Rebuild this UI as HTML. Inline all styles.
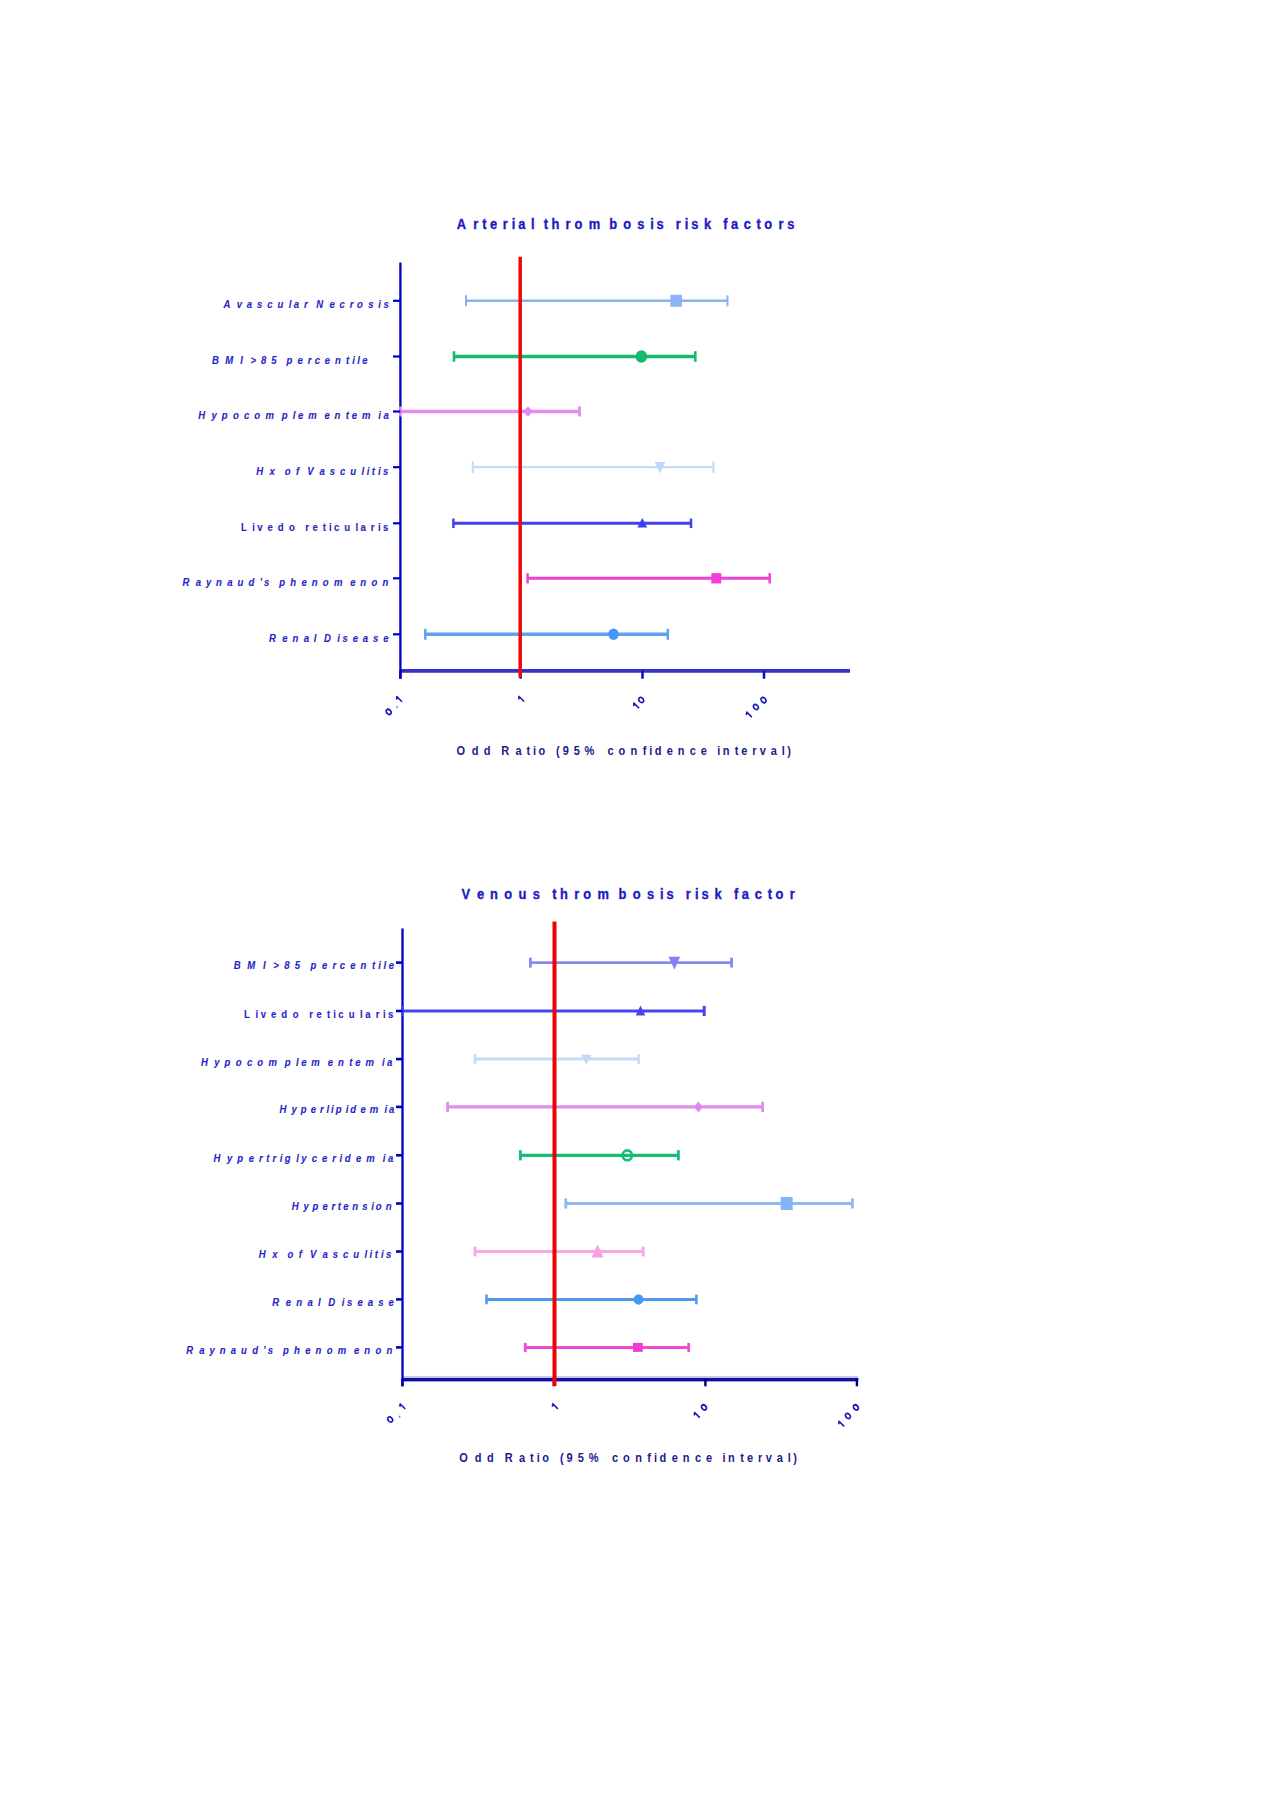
<!DOCTYPE html>
<html><head><meta charset="utf-8"><title>Thrombosis risk factors</title>
<style>
html,body{margin:0;padding:0;background:#fff;}
body{width:1280px;height:1813px;overflow:hidden;}
svg{display:block;font-family:"Liberation Sans", sans-serif;}
</style></head>
<body>
<svg width="1280" height="1813" viewBox="0 0 1280 1813">
<rect width="1280" height="1813" fill="#fff"/>
<text x="496.39 514.50 524.25 532.60 546.54 556.30 563.26 577.21 591.14 599.49 614.80 624.56 639.87 662.16 677.48 692.79 706.73 713.70 734.61 744.36 751.33 765.27 786.18 794.53 808.47 822.41 830.76 846.08 855.83" y="229.0" font-size="14" font-weight="bold" font-style="normal" fill="#1c1cc4" stroke="#1c1cc4" stroke-width="0.35" transform="scale(0.92 1)">Arterialthrombosisriskfactors</text>
<line x1="400.00" y1="670.80" x2="850.00" y2="670.80" stroke="#3a2ec8" stroke-width="3.7" stroke-linecap="butt"/>
<line x1="400.40" y1="670.80" x2="400.40" y2="678.70" stroke="#0808c8" stroke-width="2.5" stroke-linecap="butt"/>
<line x1="520.60" y1="670.80" x2="520.60" y2="678.70" stroke="#0808c8" stroke-width="2.5" stroke-linecap="butt"/>
<line x1="642.50" y1="670.80" x2="642.50" y2="678.70" stroke="#0808c8" stroke-width="2.5" stroke-linecap="butt"/>
<line x1="764.00" y1="670.80" x2="764.00" y2="678.70" stroke="#0808c8" stroke-width="2.5" stroke-linecap="butt"/>
<line x1="400.40" y1="262.40" x2="400.40" y2="678.70" stroke="#0000c4" stroke-width="2.3" stroke-linecap="butt"/>
<line x1="466.00" y1="300.80" x2="727.50" y2="300.80" stroke="#88b2f0" stroke-width="2.4" stroke-linecap="butt"/>
<line x1="466.00" y1="295.30" x2="466.00" y2="306.30" stroke="#88b2f0" stroke-width="2" stroke-linecap="butt"/>
<line x1="727.50" y1="295.30" x2="727.50" y2="306.30" stroke="#88b2f0" stroke-width="2" stroke-linecap="butt"/>
<line x1="454.00" y1="356.50" x2="695.30" y2="356.50" stroke="#12bb6e" stroke-width="3.4" stroke-linecap="butt"/>
<line x1="454.00" y1="351.25" x2="454.00" y2="361.75" stroke="#12bb6e" stroke-width="2.6" stroke-linecap="butt"/>
<line x1="695.30" y1="351.25" x2="695.30" y2="361.75" stroke="#12bb6e" stroke-width="2.6" stroke-linecap="butt"/>
<line x1="400.60" y1="411.50" x2="579.50" y2="411.50" stroke="#e68cf0" stroke-width="3.4" stroke-linecap="butt"/>
<line x1="400.60" y1="406.50" x2="400.60" y2="416.50" stroke="#e68cf0" stroke-width="2.8" stroke-linecap="butt"/>
<line x1="579.50" y1="406.50" x2="579.50" y2="416.50" stroke="#e68cf0" stroke-width="2.8" stroke-linecap="butt"/>
<line x1="472.80" y1="467.20" x2="713.40" y2="467.20" stroke="#c4dbf8" stroke-width="2.2" stroke-linecap="butt"/>
<line x1="472.80" y1="461.45" x2="472.80" y2="472.95" stroke="#c4dbf8" stroke-width="2.2" stroke-linecap="butt"/>
<line x1="713.40" y1="461.45" x2="713.40" y2="472.95" stroke="#c4dbf8" stroke-width="2.2" stroke-linecap="butt"/>
<line x1="453.40" y1="523.30" x2="691.00" y2="523.30" stroke="#4040ee" stroke-width="3" stroke-linecap="butt"/>
<line x1="453.40" y1="518.55" x2="453.40" y2="528.05" stroke="#4040ee" stroke-width="2.5" stroke-linecap="butt"/>
<line x1="691.00" y1="518.55" x2="691.00" y2="528.05" stroke="#4040ee" stroke-width="2.5" stroke-linecap="butt"/>
<line x1="527.60" y1="578.30" x2="769.70" y2="578.30" stroke="#f040d8" stroke-width="3" stroke-linecap="butt"/>
<line x1="527.60" y1="573.15" x2="527.60" y2="583.45" stroke="#f040d8" stroke-width="2.5" stroke-linecap="butt"/>
<line x1="769.70" y1="573.15" x2="769.70" y2="583.45" stroke="#f040d8" stroke-width="2.5" stroke-linecap="butt"/>
<line x1="425.30" y1="634.30" x2="667.80" y2="634.30" stroke="#5ea2f0" stroke-width="3.6" stroke-linecap="butt"/>
<line x1="425.30" y1="628.80" x2="425.30" y2="639.80" stroke="#5ea2f0" stroke-width="2.5" stroke-linecap="butt"/>
<line x1="667.80" y1="628.80" x2="667.80" y2="639.80" stroke="#5ea2f0" stroke-width="2.5" stroke-linecap="butt"/>
<rect x="670.45" y="294.80" width="11.5" height="12" fill="#8ab4f8"/>
<line x1="393.00" y1="300.80" x2="400.40" y2="300.80" stroke="#0000c4" stroke-width="2.2" stroke-linecap="butt"/>
<text x="262.82 278.40 290.40 302.39 314.39 326.39 339.57 345.56 357.56 371.95 387.53 399.53 411.53 419.92 433.10 445.10 451.10" y="308.3" font-size="11.2" font-weight="bold" font-style="italic" fill="#2626c8" stroke="#2626c8" stroke-width="0.12" transform="scale(0.85 1)">AvascularNecrosis</text>
<ellipse cx="641.40" cy="356.50" rx="5.75" ry="6.25" fill="#12bb6e"/>
<line x1="393.00" y1="356.50" x2="400.40" y2="356.50" stroke="#0000c4" stroke-width="2.2" stroke-linecap="butt"/>
<text x="249.45 264.92 282.76 294.66 307.16 319.08 336.94 350.02 361.93 370.26 382.17 394.09 407.17 414.30 420.25 426.20" y="364.0" font-size="11.2" font-weight="bold" font-style="italic" fill="#2626c8" stroke="#2626c8" stroke-width="0.12" transform="scale(0.85 1)">BMI&gt;85percentile</text>
<polygon points="528.00,406.20 532.80,411.50 528.00,416.80 523.20,411.50" fill="#e08af2"/>
<line x1="393.00" y1="411.50" x2="400.40" y2="411.50" stroke="#0000c4" stroke-width="2.2" stroke-linecap="butt"/>
<text x="233.33 248.88 260.85 274.00 287.15 299.12 312.27 331.41 344.56 350.54 362.52 381.66 393.63 406.78 413.95 425.92 445.06 451.04" y="419.0" font-size="11.2" font-weight="bold" font-style="italic" fill="#2626c8" stroke="#2626c8" stroke-width="0.12" transform="scale(0.85 1)">Hypocomplementemia</text>
<polygon points="660.00,473.52 665.25,462.02 654.75,462.02" fill="#bed7fa"/>
<line x1="393.00" y1="467.20" x2="400.40" y2="467.20" stroke="#0000c4" stroke-width="2.2" stroke-linecap="butt"/>
<text x="301.33 316.98 335.05 348.28 361.52 375.97 388.02 400.07 412.12 425.35 431.37 437.39 444.60 450.62" y="474.7" font-size="11.2" font-weight="bold" font-style="italic" fill="#2626c8" stroke="#2626c8" stroke-width="0.12" transform="scale(0.85 1)">HxofVasculitis</text>
<polygon points="642.30,518.02 647.20,527.62 637.40,527.62" fill="#3c3cf0"/>
<line x1="393.00" y1="523.30" x2="400.40" y2="523.30" stroke="#0000c4" stroke-width="2.2" stroke-linecap="butt"/>
<text x="283.49 296.71 302.72 314.76 326.80 340.02 359.26 367.69 379.72 386.93 392.95 404.99 418.21 424.22 436.26 444.69 450.70" y="530.8" font-size="11.2" font-weight="bold" font-style="normal" fill="#2626c8" stroke="#2626c8" stroke-width="0.12" transform="scale(0.85 1)">Livedoreticularis</text>
<rect x="711.30" y="573.15" width="10" height="10.3" fill="#f53cdc"/>
<line x1="393.00" y1="578.30" x2="400.40" y2="578.30" stroke="#0000c4" stroke-width="2.2" stroke-linecap="butt"/>
<text x="214.86 230.36 242.30 254.23 267.34 279.27 292.38 305.49 310.60 328.49 341.60 354.71 366.65 379.76 392.86 411.95 423.88 436.99 450.10" y="585.8" font-size="11.2" font-weight="bold" font-style="italic" fill="#2626c8" stroke="#2626c8" stroke-width="0.12" transform="scale(0.85 1)">Raynaud'sphenomenon</text>
<ellipse cx="613.50" cy="634.30" rx="5.25" ry="5.75" fill="#4696fa"/>
<line x1="393.00" y1="634.30" x2="400.40" y2="634.30" stroke="#0000c4" stroke-width="2.2" stroke-linecap="butt"/>
<text x="316.39 332.00 344.01 357.21 369.23 381.23 396.84 402.84 414.86 426.87 438.89 450.91" y="641.8" font-size="11.2" font-weight="bold" font-style="italic" fill="#2626c8" stroke="#2626c8" stroke-width="0.12" transform="scale(0.85 1)">RenalDisease</text>
<line x1="520.20" y1="256.70" x2="520.20" y2="677.50" stroke="#f00808" stroke-width="3.5" stroke-linecap="butt"/>
<g transform="translate(388.7 711.9) rotate(-45)"><ellipse cx="0" cy="0" rx="2.1" ry="2.85" fill="none" stroke="#1818b8" stroke-width="1.7"/></g>
<g transform="translate(396.8 706.7) rotate(-45)"><path d="M0.3 -0.6L-0.4 1.5" fill="none" stroke="#1818b8" stroke-width="1.2" opacity="0.6"/></g>
<g transform="translate(398.7 699.9) rotate(-45)"><path d="M1 3.6V-3.6L-1.3 -1.7" fill="none" stroke="#1818b8" stroke-width="1.6" stroke-linejoin="round"/></g>
<g transform="translate(520.9 699.7) rotate(-45)"><path d="M1 3.6V-3.6L-1.3 -1.7" fill="none" stroke="#1818b8" stroke-width="1.6" stroke-linejoin="round"/></g>
<g transform="translate(635.8 706.4) rotate(-45)"><path d="M1 3.6V-3.6L-1.3 -1.7" fill="none" stroke="#1818b8" stroke-width="1.6" stroke-linejoin="round"/></g>
<g transform="translate(641.2 700) rotate(-45)"><ellipse cx="0" cy="0" rx="2.1" ry="2.85" fill="none" stroke="#1818b8" stroke-width="1.7"/></g>
<g transform="translate(748.6 715.3) rotate(-45)"><path d="M1 3.6V-3.6L-1.3 -1.7" fill="none" stroke="#1818b8" stroke-width="1.6" stroke-linejoin="round"/></g>
<g transform="translate(755.9 707) rotate(-45)"><ellipse cx="0" cy="0" rx="2.1" ry="2.85" fill="none" stroke="#1818b8" stroke-width="1.7"/></g>
<g transform="translate(763.5 700.1) rotate(-45)"><ellipse cx="0" cy="0" rx="2.1" ry="2.85" fill="none" stroke="#1818b8" stroke-width="1.7"/></g>
<text x="530.75 548.58 562.59 582.96 599.51 612.26 619.90 626.27 646.64 654.27 667.02 679.77 706.52 719.27 733.27 747.28 754.91 761.28 775.28 788.03 802.03 814.78 833.90 840.27 854.27 861.91 874.66 883.58 896.33 909.08 915.44" y="755.3" font-size="12.8" font-weight="bold" font-style="normal" fill="#20208c" stroke="#20208c" stroke-width="0.0" transform="scale(0.86 1)">OddRatio(95%confidenceinterval)</text>
<text x="501.53 518.46 532.58 548.08 563.59 579.09 600.26 608.71 624.21 634.09 649.59 672.16 687.66 703.17 717.28 724.33 745.50 755.38 762.43 776.55 797.71 806.16 820.28 834.40 842.85 858.35" y="899.2" font-size="14" font-weight="bold" font-style="normal" fill="#1c1cc4" stroke="#1c1cc4" stroke-width="0.35" transform="scale(0.92 1)">Venousthrombosisriskfactor</text>
<rect x="402" y="1375.9" width="456.30" height="2.10" fill="#c6c6f2"/>
<rect x="402" y="1378.0" width="456.30" height="3.40" fill="#10109a"/>
<line x1="402.40" y1="1378.60" x2="402.40" y2="1386.30" stroke="#00007e" stroke-width="2.4" stroke-linecap="butt"/>
<line x1="553.90" y1="1378.60" x2="553.90" y2="1386.30" stroke="#00007e" stroke-width="2.4" stroke-linecap="butt"/>
<line x1="705.40" y1="1378.60" x2="705.40" y2="1386.30" stroke="#00007e" stroke-width="2.4" stroke-linecap="butt"/>
<line x1="856.90" y1="1378.60" x2="856.90" y2="1386.30" stroke="#00007e" stroke-width="2.4" stroke-linecap="butt"/>
<line x1="402.50" y1="928.50" x2="402.50" y2="1386.30" stroke="#0000c0" stroke-width="2.3" stroke-linecap="butt"/>
<line x1="530.40" y1="962.60" x2="731.60" y2="962.60" stroke="#8a8aee" stroke-width="2.8" stroke-linecap="butt"/>
<line x1="530.40" y1="957.60" x2="530.40" y2="967.60" stroke="#8a8aee" stroke-width="2.8" stroke-linecap="butt"/>
<line x1="731.60" y1="957.60" x2="731.60" y2="967.60" stroke="#8a8aee" stroke-width="2.8" stroke-linecap="butt"/>
<line x1="402.50" y1="1011.00" x2="704.20" y2="1011.00" stroke="#4646ee" stroke-width="3.2" stroke-linecap="butt"/>
<line x1="402.50" y1="1005.90" x2="402.50" y2="1016.10" stroke="#4646ee" stroke-width="3" stroke-linecap="butt"/>
<line x1="704.20" y1="1005.90" x2="704.20" y2="1016.10" stroke="#4646ee" stroke-width="3" stroke-linecap="butt"/>
<line x1="475.00" y1="1059.10" x2="638.60" y2="1059.10" stroke="#c6dbf8" stroke-width="3" stroke-linecap="butt"/>
<line x1="475.00" y1="1054.10" x2="475.00" y2="1064.10" stroke="#c6dbf8" stroke-width="2.5" stroke-linecap="butt"/>
<line x1="638.60" y1="1054.10" x2="638.60" y2="1064.10" stroke="#c6dbf8" stroke-width="2.5" stroke-linecap="butt"/>
<line x1="447.60" y1="1106.90" x2="762.60" y2="1106.90" stroke="#e08cf2" stroke-width="3.4" stroke-linecap="butt"/>
<line x1="447.60" y1="1101.80" x2="447.60" y2="1112.00" stroke="#e08cf2" stroke-width="2.8" stroke-linecap="butt"/>
<line x1="762.60" y1="1101.80" x2="762.60" y2="1112.00" stroke="#e08cf2" stroke-width="2.8" stroke-linecap="butt"/>
<line x1="520.40" y1="1155.30" x2="678.40" y2="1155.30" stroke="#14be78" stroke-width="3.2" stroke-linecap="butt"/>
<line x1="520.40" y1="1150.20" x2="520.40" y2="1160.40" stroke="#14be78" stroke-width="2.8" stroke-linecap="butt"/>
<line x1="678.40" y1="1150.20" x2="678.40" y2="1160.40" stroke="#14be78" stroke-width="2.8" stroke-linecap="butt"/>
<line x1="565.80" y1="1203.50" x2="852.40" y2="1203.50" stroke="#8cbaf5" stroke-width="3" stroke-linecap="butt"/>
<line x1="565.80" y1="1198.40" x2="565.80" y2="1208.60" stroke="#8cbaf5" stroke-width="2.8" stroke-linecap="butt"/>
<line x1="852.40" y1="1198.40" x2="852.40" y2="1208.60" stroke="#8cbaf5" stroke-width="2.8" stroke-linecap="butt"/>
<line x1="475.00" y1="1251.50" x2="643.20" y2="1251.50" stroke="#f5a8e4" stroke-width="2.8" stroke-linecap="butt"/>
<line x1="475.00" y1="1246.60" x2="475.00" y2="1256.40" stroke="#f5a8e4" stroke-width="3" stroke-linecap="butt"/>
<line x1="643.20" y1="1246.60" x2="643.20" y2="1256.40" stroke="#f5a8e4" stroke-width="3" stroke-linecap="butt"/>
<line x1="486.50" y1="1299.40" x2="696.40" y2="1299.40" stroke="#4c98f2" stroke-width="3" stroke-linecap="butt"/>
<line x1="486.50" y1="1294.50" x2="486.50" y2="1304.30" stroke="#4c98f2" stroke-width="2.5" stroke-linecap="butt"/>
<line x1="696.40" y1="1294.50" x2="696.40" y2="1304.30" stroke="#4c98f2" stroke-width="2.5" stroke-linecap="butt"/>
<line x1="525.30" y1="1347.40" x2="688.70" y2="1347.40" stroke="#f248d6" stroke-width="3" stroke-linecap="butt"/>
<line x1="525.30" y1="1342.90" x2="525.30" y2="1351.90" stroke="#f248d6" stroke-width="2.8" stroke-linecap="butt"/>
<line x1="688.70" y1="1342.90" x2="688.70" y2="1351.90" stroke="#f248d6" stroke-width="2.8" stroke-linecap="butt"/>
<polygon points="674.40,969.75 680.20,956.75 668.60,956.75" fill="#8282f5"/>
<line x1="396.00" y1="962.60" x2="402.50" y2="962.60" stroke="#0000c0" stroke-width="2.6" stroke-linecap="butt"/>
<text x="274.98 290.94 309.35 321.63 334.54 346.83 365.26 378.76 391.05 399.65 411.94 424.24 437.74 445.10 451.24 457.38" y="969.2" font-size="11.2" font-weight="bold" font-style="italic" fill="#2626c8" stroke="#2626c8" stroke-width="0.12" transform="scale(0.85 1)">BMI&gt;85percentile</text>
<polygon points="640.50,1005.39 645.25,1015.59 635.75,1015.59" fill="#4646f0"/>
<line x1="396.00" y1="1011.00" x2="402.50" y2="1011.00" stroke="#0000c0" stroke-width="2.6" stroke-linecap="butt"/>
<text x="287.13 300.53 306.63 318.83 331.03 344.43 363.92 372.46 384.66 391.96 398.06 410.26 423.66 429.75 441.95 450.49 456.58" y="1017.6" font-size="11.2" font-weight="bold" font-style="normal" fill="#2626c8" stroke="#2626c8" stroke-width="0.12" transform="scale(0.85 1)">Livedoreticularis</text>
<polygon points="586.30,1064.49 591.55,1054.69 581.05,1054.69" fill="#c3d7fa"/>
<line x1="396.00" y1="1059.10" x2="402.50" y2="1059.10" stroke="#0000c0" stroke-width="2.6" stroke-linecap="butt"/>
<text x="236.51 252.13 264.16 277.37 290.59 302.62 315.83 335.07 348.28 354.29 366.32 385.55 397.58 410.80 418.00 430.03 449.27 455.28" y="1065.7" font-size="11.2" font-weight="bold" font-style="italic" fill="#2626c8" stroke="#2626c8" stroke-width="0.12" transform="scale(0.85 1)">Hypocomplementemia</text>
<polygon points="698.40,1101.60 703.00,1106.90 698.40,1112.20 693.80,1106.90" fill="#e187f5"/>
<line x1="396.00" y1="1106.90" x2="402.50" y2="1106.90" stroke="#0000c0" stroke-width="2.6" stroke-linecap="butt"/>
<text x="328.86 342.92 353.75 365.65 376.48 384.06 389.47 394.88 406.77 412.18 424.07 434.90 452.22 457.63" y="1113.5" font-size="11.2" font-weight="bold" font-style="italic" fill="#2626c8" stroke="#2626c8" stroke-width="0.12" transform="scale(0.85 1)">Hyperlipidemia</text>
<ellipse cx="627.30" cy="1155.30" rx="4.7" ry="4.9" fill="none" stroke="#14be78" stroke-width="2.6"/>
<line x1="396.00" y1="1155.30" x2="402.50" y2="1155.30" stroke="#0000c0" stroke-width="2.6" stroke-linecap="butt"/>
<text x="251.33 267.10 279.25 292.59 304.73 313.23 320.51 329.00 335.07 348.41 354.48 366.62 378.77 390.92 399.41 405.48 418.82 430.97 450.38 456.45" y="1161.9" font-size="11.2" font-weight="bold" font-style="italic" fill="#2626c8" stroke="#2626c8" stroke-width="0.12" transform="scale(0.85 1)">Hypertriglyceridemia</text>
<rect x="780.70" y="1197.00" width="12" height="13" fill="#82b4fa"/>
<line x1="396.00" y1="1203.50" x2="402.50" y2="1203.50" stroke="#0000c0" stroke-width="2.6" stroke-linecap="butt"/>
<text x="343.33 357.13 367.75 379.43 390.05 397.49 403.85 414.47 426.14 436.77 442.08 453.75" y="1210.1" font-size="11.2" font-weight="bold" font-style="italic" fill="#2626c8" stroke="#2626c8" stroke-width="0.12" transform="scale(0.85 1)">Hypertension</text>
<polygon points="597.60,1244.24 603.60,1257.44 591.60,1257.44" fill="#f5a0e1"/>
<line x1="396.00" y1="1251.50" x2="402.50" y2="1251.50" stroke="#0000c0" stroke-width="2.6" stroke-linecap="butt"/>
<text x="304.51 320.19 338.30 351.57 364.84 379.32 391.40 403.48 415.56 428.82 434.85 440.89 448.12 454.15" y="1258.1" font-size="11.2" font-weight="bold" font-style="italic" fill="#2626c8" stroke="#2626c8" stroke-width="0.12" transform="scale(0.85 1)">HxofVasculitis</text>
<ellipse cx="638.50" cy="1299.40" rx="4.9" ry="5.25" fill="#4696f5"/>
<line x1="396.00" y1="1299.40" x2="402.50" y2="1299.40" stroke="#0000c0" stroke-width="2.6" stroke-linecap="butt"/>
<text x="320.39 336.25 348.47 361.89 374.10 386.31 402.17 408.28 420.49 432.71 444.93 457.14" y="1306.0" font-size="11.2" font-weight="bold" font-style="italic" fill="#2626c8" stroke="#2626c8" stroke-width="0.12" transform="scale(0.85 1)">RenalDisease</text>
<rect x="633.00" y="1342.90" width="9.8" height="9" fill="#f53cd2"/>
<line x1="396.00" y1="1347.40" x2="402.50" y2="1347.40" stroke="#0000c0" stroke-width="2.6" stroke-linecap="butt"/>
<text x="218.98 234.52 246.48 258.45 271.59 283.55 296.70 309.84 314.95 332.90 346.04 359.18 371.14 384.29 397.43 416.56 428.52 441.66 454.81" y="1354.0" font-size="11.2" font-weight="bold" font-style="italic" fill="#2626c8" stroke="#2626c8" stroke-width="0.12" transform="scale(0.85 1)">Raynaud'sphenomenon</text>
<line x1="554.50" y1="921.60" x2="554.50" y2="1386.00" stroke="#f00000" stroke-width="4.0" stroke-linecap="butt"/>
<g transform="translate(390.2 1419.5) rotate(-45)"><ellipse cx="0" cy="0" rx="2.1" ry="2.85" fill="none" stroke="#1818b8" stroke-width="1.7"/></g>
<g transform="translate(399.4 1416.3) rotate(-45)"><path d="M0.3 -0.6L-0.4 1.5" fill="none" stroke="#1818b8" stroke-width="1.2" opacity="0.6"/></g>
<g transform="translate(402 1407.2) rotate(-45)"><path d="M1 3.6V-3.6L-1.3 -1.7" fill="none" stroke="#1818b8" stroke-width="1.6" stroke-linejoin="round"/></g>
<g transform="translate(554.6 1407) rotate(-45)"><path d="M1 3.6V-3.6L-1.3 -1.7" fill="none" stroke="#1818b8" stroke-width="1.6" stroke-linejoin="round"/></g>
<g transform="translate(696.5 1415.8) rotate(-45)"><path d="M1 3.6V-3.6L-1.3 -1.7" fill="none" stroke="#1818b8" stroke-width="1.6" stroke-linejoin="round"/></g>
<g transform="translate(704 1407.4) rotate(-45)"><ellipse cx="0" cy="0" rx="2.1" ry="2.85" fill="none" stroke="#1818b8" stroke-width="1.7"/></g>
<g transform="translate(840.9 1424.5) rotate(-45)"><path d="M1 3.6V-3.6L-1.3 -1.7" fill="none" stroke="#1818b8" stroke-width="1.6" stroke-linejoin="round"/></g>
<g transform="translate(847.9 1416) rotate(-45)"><ellipse cx="0" cy="0" rx="2.1" ry="2.85" fill="none" stroke="#1818b8" stroke-width="1.7"/></g>
<g transform="translate(855.9 1407.4) rotate(-45)"><ellipse cx="0" cy="0" rx="2.1" ry="2.85" fill="none" stroke="#1818b8" stroke-width="1.7"/></g>
<text x="534.13 552.13 566.27 586.84 603.55 616.42 624.13 630.56 651.13 658.84 671.71 684.58 711.59 724.47 738.61 752.74 760.45 766.88 781.02 793.89 808.03 820.90 840.21 846.64 860.77 868.48 881.35 890.36 903.23 916.11 922.54" y="1462.3" font-size="12.8" font-weight="bold" font-style="normal" fill="#20208c" stroke="#20208c" stroke-width="0.0" transform="scale(0.86 1)">OddRatio(95%confidenceinterval)</text>
</svg>
</body></html>
